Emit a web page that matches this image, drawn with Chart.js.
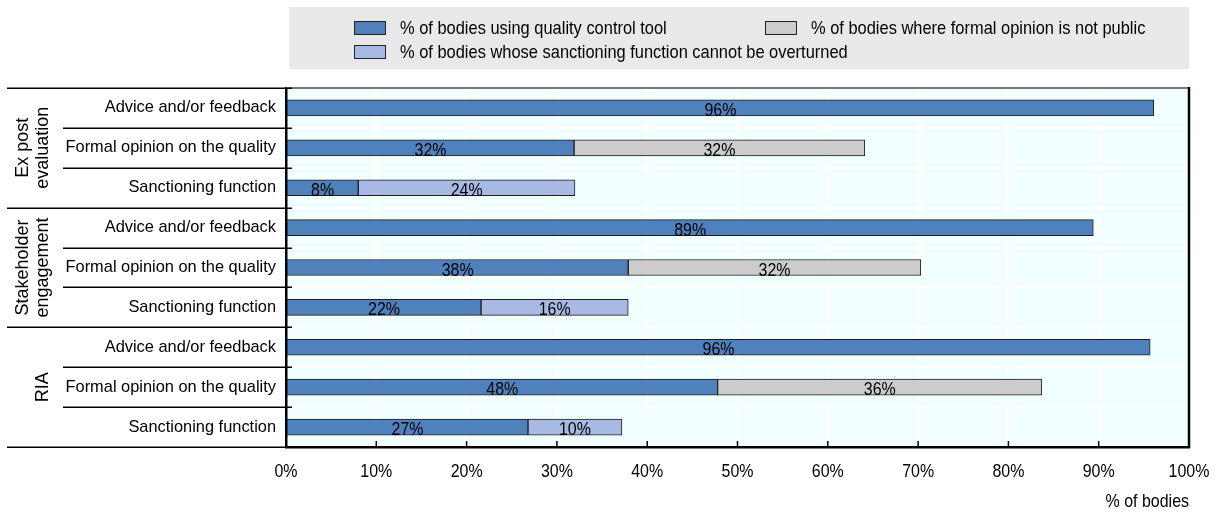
<!DOCTYPE html>
<html>
<head>
<meta charset="utf-8">
<script src="https://cdn.jsdelivr.net/npm/chart.js@4/dist/chart.umd.min.js"></script>
<style>
  html, body { margin: 0; padding: 0; background: #fff; }
  #wrap { width: 1219px; height: 513px; }
</style>
</head>
<body>
<div id="wrap"><canvas id="chartjs-chart" width="1219" height="513"></canvas></div>
<script>
// rows, top to bottom
var categories = [
  'Advice and/or feedback', 'Formal opinion on the quality', 'Sanctioning function',
  'Advice and/or feedback', 'Formal opinion on the quality', 'Sanctioning function',
  'Advice and/or feedback', 'Formal opinion on the quality', 'Sanctioning function'
];
var groups = [['Ex post', 'evaluation'], ['Stakeholder', 'engagement'], ['RIA']];
var groupSizes = [3, 3, 3];

var seriesNames = [
  '% of bodies using quality control tool',
  '% of bodies where formal opinion is not public',
  '% of bodies whose sanctioning function cannot be overturned'
];
var usingTool      = [96.1, 31.9, 8.0, 89.4, 37.9, 21.6, 95.7, 47.8, 26.8];
var notPublic      = [null, 32.2, null, null, 32.4, null, null, 35.9, null];
var notOverturned  = [null, null, 24.0, null, null, 16.3, null, null, 10.4];

var xTicks = [0, 10, 20, 30, 40, 50, 60, 70, 80, 90, 100];
var xTitle = '% of bodies';

var REGULAR = '"Liberation Sans", Arial, sans-serif';

// no Arial Narrow here, so squeeze Liberation Sans horizontally
function narrowText(c, txt, x, y, align, size, squeeze) {
  c.save();
  c.font = size + 'px ' + REGULAR;
  c.textAlign = align;
  c.translate(x, y);
  c.scale(squeeze, 1);
  c.fillText(txt, 0, 0);
  c.restore();
}

var chartDecor = {
  id: 'chartDecor',
  beforeDraw: function(chart) {
    var c = chart.ctx, a = chart.chartArea;
    c.save();
    c.fillStyle = '#F2FFFF';
    c.fillRect(a.left, a.top, a.right - a.left, a.bottom - a.top);
    // legend panel
    c.fillStyle = '#E9E9E9';
    c.fillRect(289, 7, 900, 62);
    var items = [[354, 28], [765, 28], [354, 52]];
    c.textBaseline = 'middle';
    chart.data.datasets.forEach(function(ds, i) {
      var p = items[i];
      c.fillStyle = ds.backgroundColor;
      c.fillRect(p[0], p[1] - 7, 32, 14);
      c.strokeStyle = '#222';
      c.lineWidth = 1;
      c.strokeRect(p[0] + 0.5, p[1] - 6.5, 31, 13);
      c.fillStyle = '#000';
      narrowText(c, ds.label, p[0] + 46, p[1] + 1, 'left', 19, 0.865);
    });
    c.restore();
  },
  afterDatasetsDraw: function(chart) {
    var c = chart.ctx;
    c.save();
    c.fillStyle = '#000';
    c.textBaseline = 'alphabetic';
    chart.data.datasets.forEach(function(ds, i) {
      chart.getDatasetMeta(i).data.forEach(function(bar, j) {
        var v = ds.data[j];
        if (v == null) return;
        narrowText(c, Math.round(v) + '%', (bar.x + bar.base) / 2, bar.y + 8, 'center', 19, 0.84);
      });
    });
    c.restore();
  },
  afterDraw: function(chart) {
    var c = chart.ctx, a = chart.chartArea;
    var ys = chart.scales.y, xs = chart.scales.x;
    c.save();
    // frame
    c.strokeStyle = '#777';
    c.lineWidth = 2;
    c.beginPath(); c.moveTo(a.left, a.top); c.lineTo(a.right, a.top); c.stroke();
    c.strokeStyle = '#000';
    c.lineWidth = 2.5;
    c.beginPath(); c.moveTo(a.right, a.top - 1); c.lineTo(a.right, a.bottom + 1); c.stroke();
    // x tick marks inside plot, tick labels and axis title
    c.lineWidth = 1.5;
    c.fillStyle = '#000';
    c.textBaseline = 'middle';
    xTicks.forEach(function(t) {
      var x = xs.getPixelForValue(t);
      if (t !== 0) {
        c.beginPath(); c.moveTo(x, a.bottom); c.lineTo(x, a.bottom - 6); c.stroke();
      }
      narrowText(c, t + '%', x, a.bottom + 25, 'center', 19, 0.84);
    });
    narrowText(c, xTitle, a.right, a.bottom + 55, 'right', 19, 0.84);
    // row separators in the label area
    var n = categories.length;
    var bounds = [a.top];
    for (var i = 0; i < n - 1; i++) {
      bounds.push((ys.getPixelForValue(i) + ys.getPixelForValue(i + 1)) / 2);
    }
    bounds.push(a.bottom);
    var groupEdges = [0];
    groupSizes.forEach(function(s) { groupEdges.push(groupEdges[groupEdges.length - 1] + s); });
    c.strokeStyle = '#000';
    c.lineWidth = 1.5;
    bounds.forEach(function(y, k) {
      var isGroup = groupEdges.indexOf(k) >= 0;
      var x0 = isGroup ? 7 : 63;
      var x1 = (k === n) ? a.left : a.left + 6;
      c.beginPath(); c.moveTo(x0, Math.round(y) + 0.25); c.lineTo(x1, Math.round(y) + 0.25); c.stroke();
    });
    // group labels
    c.font = '18px ' + REGULAR;
    c.textAlign = 'center';
    groups.forEach(function(lines, g) {
      var yc = (bounds[groupEdges[g]] + bounds[groupEdges[g + 1]]) / 2;
      lines.forEach(function(txt, li) {
        var x = 43 - (lines.length - 1 - li) * 20;
        c.save();
        c.translate(x, yc);
        c.rotate(-Math.PI / 2);
        c.fillText(txt, 0, 0);
        c.restore();
      });
    });
    c.restore();
  }
};

window.onload = function() {
  var ctx = document.getElementById('chartjs-chart').getContext('2d');
  var myChart = new Chart(ctx, {
    type: 'bar',
    data: {
      labels: categories,
      datasets: [{
        label: seriesNames[0],
        data: usingTool,
        backgroundColor: '#4F81BD'
      }, {
        label: seriesNames[1],
        data: notPublic,
        backgroundColor: '#CCCCCC'
      }, {
        label: seriesNames[2],
        data: notOverturned,
        backgroundColor: '#A8B9E3'
      }]
    },
    options: {
      indexAxis: 'y',
      responsive: false,
      animation: false,
      devicePixelRatio: 1,
      datasets: {
        bar: { barThickness: 16, borderWidth: 1, borderColor: '#1E1E1E', borderSkipped: false }
      },
      layout: { padding: { left: 0, right: 30, top: 88, bottom: 0 } },
      plugins: { legend: { display: false }, tooltip: { enabled: false } },
      scales: {
        x: {
          stacked: true,
          min: 0,
          max: 100,
          afterFit: function(s) { s.height = 66; },
          afterBuildTicks: function(s) { s.ticks = xTicks.map(function(v) { return { value: v }; }); },
          ticks: { display: false },
          grid: { color: '#FFFFFF', lineWidth: 2, drawTicks: false },
          border: { display: true, color: '#000', width: 2.5 }
        },
        y: {
          stacked: true,
          afterFit: function(s) { s.width = 286; },
          ticks: {
            font: { family: REGULAR, size: 16.4 },
            color: '#000',
            padding: 10,
            autoSkip: false
          },
          grid: { color: '#FFFFFF', lineWidth: 2, drawTicks: false },
          border: { display: true, color: '#000', width: 2.5 }
        }
      }
    },
    plugins: [chartDecor]
  });
};
</script>
</body>
</html>
